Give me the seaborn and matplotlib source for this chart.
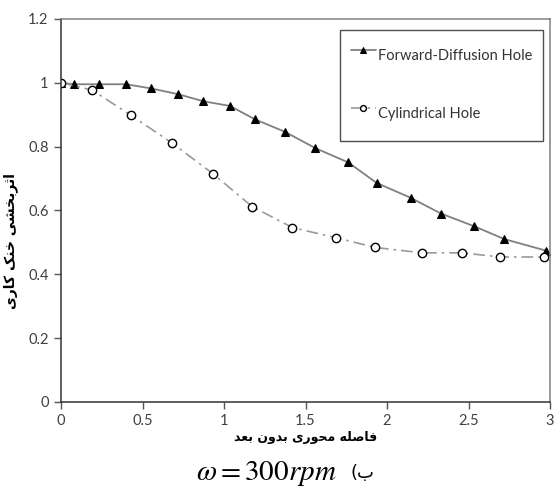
import matplotlib
matplotlib.use("Agg")
import matplotlib.pyplot as plt
import seaborn as sns
import pandas as pd

# ---- data ----
fd_x = [0.0, 0.08, 0.235, 0.40, 0.552, 0.718, 0.871, 1.037, 1.19, 1.374, 1.56,
        1.763, 1.936, 2.147, 2.331, 2.536, 2.72, 2.975]
fd_y = [1.0, 0.995, 0.995, 0.995, 0.982, 0.964, 0.942, 0.927, 0.885, 0.846, 0.795,
        0.75, 0.686, 0.639, 0.59, 0.55, 0.51, 0.474]
cy_x = [0.0, 0.19, 0.428, 0.681, 0.934, 1.172, 1.42, 1.69, 1.926, 2.213, 2.458,
        2.695, 2.965]
cy_y = [1.0, 0.977, 0.898, 0.811, 0.714, 0.612, 0.546, 0.514, 0.484, 0.467, 0.467,
        0.454, 0.454]
series_names = ["Forward-Diffusion Hole", "Cylindrical Hole"]
x_ticks = [0, 0.5, 1, 1.5, 2, 2.5, 3]
x_tick_labels = ["0", "0.5", "1", "1.5", "2", "2.5", "3"]
y_ticks = [0, 0.2, 0.4, 0.6, 0.8, 1.0, 1.2]
y_tick_labels = ["0", "0.2", "0.4", "0.6", "0.8", "1", "1.2"]
# Persian text written in visual (shaped, left-to-right) order
x_label = "ﺪﻌﺑ ﻥﻭﺪﺑ ﯼﺭﻮﺤﻣ ﻪﻠﺻﺎﻓ"      # فاصله محوری بدون بعد
y_label = "ﯼﺭﺎﮐ ﮏﻨﺧ ﯽﺸﺨﺑﺮﺛﺍ"          # اثربخشی خنک کاری
caption_math = r"$\omega = 300 rpm$"
caption_fa = "(ﺏ"                        # ب)

df_fd = pd.DataFrame({"x": fd_x, "y": fd_y})
df_cy = pd.DataFrame({"x": cy_x, "y": cy_y})

sns.set_theme(style="white")
plt.rcParams["font.family"] = ["Lato", "DejaVu Sans"]
plt.rcParams["mathtext.fontset"] = "stix"

fig = plt.figure(figsize=(5.55, 4.95), dpi=100)
ax = fig.add_axes([0.110, 0.188, 0.881, 0.774])

sns.lineplot(data=df_fd, x="x", y="y", ax=ax, estimator=None, sort=False,
             color="#808080", linewidth=1.3, marker="^", markersize=6,
             markerfacecolor="black", markeredgecolor="black",
             label=series_names[0])
sns.lineplot(data=df_cy, x="x", y="y", ax=ax, estimator=None, sort=False,
             color="#9a9a9a", linewidth=1.2, linestyle=(0, (7, 3, 1.5, 3)),
             marker="o", markersize=6, markerfacecolor="white",
             markeredgecolor="black", markeredgewidth=1.0,
             label=series_names[1])

ax.set_xlim(0, 3)
ax.set_ylim(0, 1.2)
ax.set_xticks(x_ticks)
ax.set_xticklabels(x_tick_labels)
ax.set_yticks(y_ticks)
ax.set_yticklabels(y_tick_labels)
ax.tick_params(axis="both", direction="out", length=5, width=1,
               color="#555555", labelcolor="#404040", labelsize=10.5, pad=4,
               bottom=True, left=True)

for s in ["left", "bottom"]:
    ax.spines[s].set_color("#333333")
    ax.spines[s].set_linewidth(1.1)
for s in ["top", "right"]:
    ax.spines[s].set_color("#808080")
    ax.spines[s].set_linewidth(1.1)

ax.set_xlabel(x_label, fontsize=9, fontweight="bold", family=["DejaVu Sans"],
              color="black", labelpad=2)
ax.set_ylabel(y_label, fontsize=10, fontweight="bold", family=["DejaVu Sans"],
              color="black")
ax.yaxis.set_label_coords(-0.088, 0.42)

leg = ax.legend(loc="upper right", bbox_to_anchor=(0.986, 0.972),
                frameon=True, fancybox=False, fontsize=10.5,
                labelspacing=1.85, handlelength=1.7, handleheight=2.9,
                handletextpad=0.15, borderpad=0.75, borderaxespad=0,
                markerscale=0.7)
leg.get_frame().set_edgecolor("#222222")
leg.get_frame().set_linewidth(1.0)
for t in leg.get_texts():
    t.set_color("#333333")

fig.text(0.479, 0.044, caption_math, fontsize=21, ha="center", va="center",
         color="black")
fig.text(0.632, 0.044, caption_fa, fontsize=13, ha="left", va="center",
         family=["DejaVu Sans"], color="black")

fig.savefig("out.png", dpi=100)
